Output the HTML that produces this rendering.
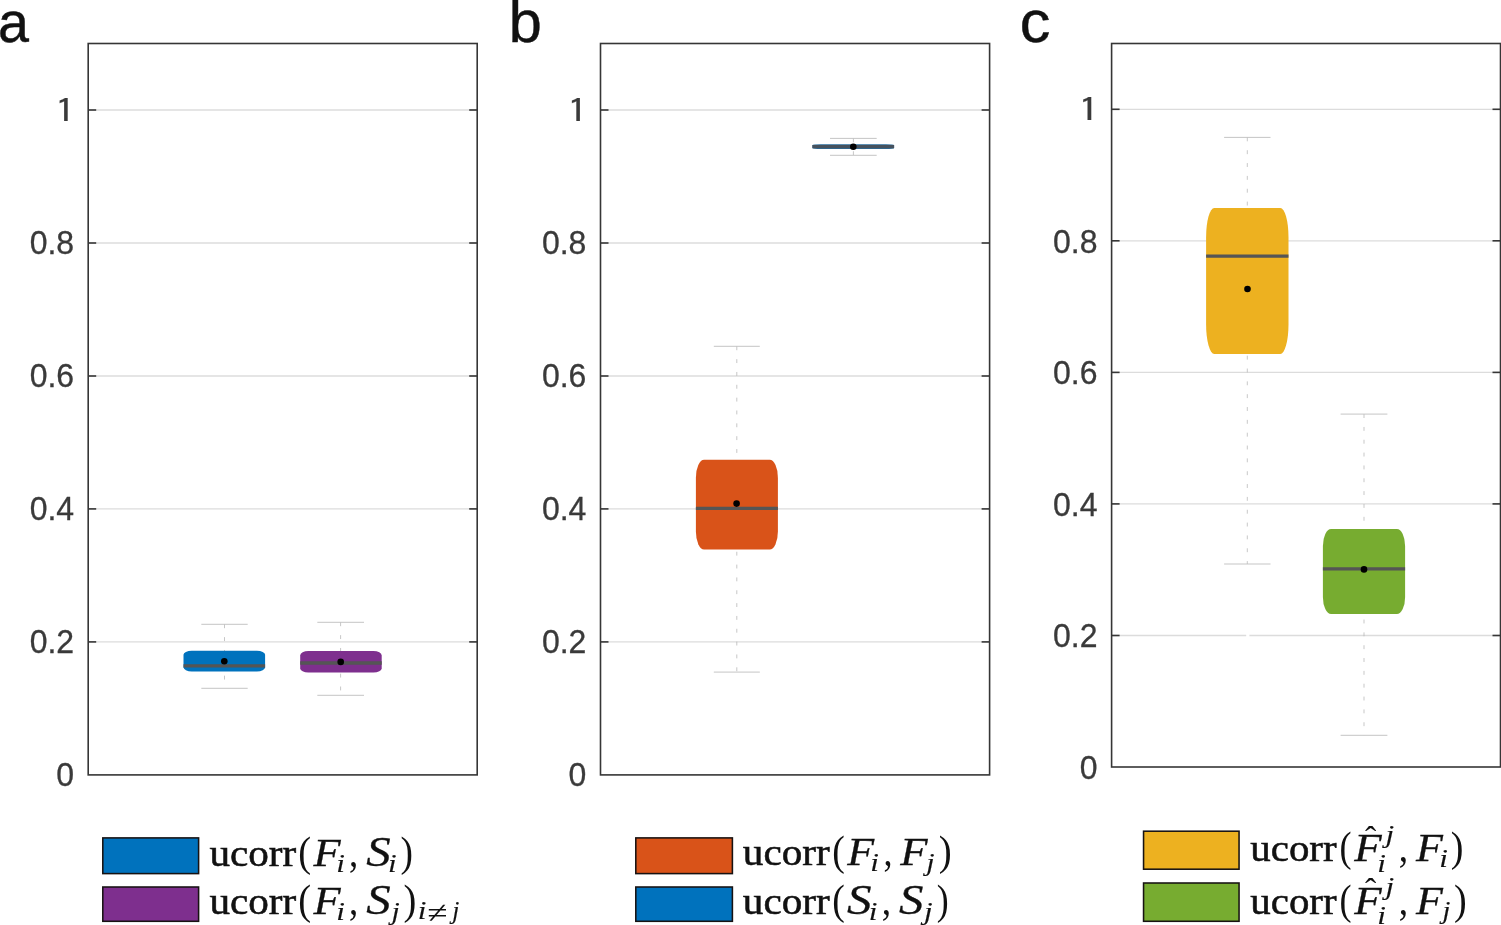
<!DOCTYPE html>
<html lang="en"><head><meta charset="utf-8"><title>ucorr box plots</title>
<style>
html,body{margin:0;padding:0;background:#fff;}
body{width:1501px;height:925px;overflow:hidden;}
svg{display:block;}
.tk{font-family:"Liberation Sans",Arial,Helvetica,sans-serif;font-size:32px;fill:#3a3a3a;stroke:#3a3a3a;stroke-width:0.3px;}
.pl{font-family:"Liberation Sans",Arial,Helvetica,sans-serif;font-size:58.3px;fill:#111;stroke:#111;stroke-width:0.45px;}
.tk1{font-family:"IPAGothic","NanumGothic","Liberation Sans",sans-serif;font-size:32.4px;fill:#3a3a3a;stroke:#3a3a3a;stroke-width:0.15px;}
.lr{font-family:"Liberation Serif","Times New Roman",serif;fill:#111;stroke:#111;stroke-width:0.55px;}
.lp{font-family:"Liberation Serif","Times New Roman",serif;fill:#111;}
.ls{font-family:"Liberation Serif","Times New Roman",serif;font-style:italic;fill:#111;stroke:#111;stroke-width:0.15px;}
.li{font-family:"Liberation Serif","Times New Roman",serif;font-style:italic;fill:#111;stroke:#111;stroke-width:0.3px;}
</style></head><body>
<svg width="1501" height="925" viewBox="0 0 1501 925">
<rect width="1501" height="925" fill="#fff"/>
<g id="panel-a">
<line x1="88.2" x2="477.2" y1="641.9" y2="641.9" stroke="#dcdcdc" stroke-width="1.3"/>
<line x1="88.2" x2="477.2" y1="508.9" y2="508.9" stroke="#dcdcdc" stroke-width="1.3"/>
<line x1="88.2" x2="477.2" y1="376.0" y2="376.0" stroke="#dcdcdc" stroke-width="1.3"/>
<line x1="88.2" x2="477.2" y1="243.0" y2="243.0" stroke="#dcdcdc" stroke-width="1.3"/>
<line x1="88.2" x2="477.2" y1="110.0" y2="110.0" stroke="#dcdcdc" stroke-width="1.3"/>
<line x1="224.5" x2="224.5" y1="624.3" y2="688.3" stroke="#b4b4b4" stroke-width="0.75" stroke-dasharray="3.9 8.94"/>
<line x1="201.3" x2="247.7" y1="624.3" y2="624.3" stroke="#bebebe" stroke-width="0.9"/>
<line x1="201.3" x2="247.7" y1="688.3" y2="688.3" stroke="#bebebe" stroke-width="0.9"/>
<rect x="183.5" y="650.7" width="81.6" height="20.7" rx="8.2" ry="4.1" fill="#0072bd"/>
<line x1="183.5" x2="265.1" y1="665.8" y2="665.8" stroke="#555555" stroke-width="3.3"/>
<circle cx="224.3" cy="661.2" r="3.3" fill="#000"/>
<line x1="340.6" x2="340.6" y1="622.3" y2="695.3" stroke="#b4b4b4" stroke-width="0.75" stroke-dasharray="3.9 8.94"/>
<line x1="317.3" x2="364.0" y1="622.3" y2="622.3" stroke="#bebebe" stroke-width="0.9"/>
<line x1="317.3" x2="364.0" y1="695.3" y2="695.3" stroke="#bebebe" stroke-width="0.9"/>
<rect x="300.2" y="651.1" width="81.5" height="21.4" rx="8.2" ry="4.3" fill="#7e2f8e"/>
<line x1="300.2" x2="381.7" y1="663.0" y2="663.0" stroke="#555555" stroke-width="3.3"/>
<circle cx="340.7" cy="661.9" r="3.3" fill="#000"/>
<rect x="88.2" y="43.5" width="389.0" height="731.4" fill="none" stroke="#363636" stroke-width="1.6"/>
<text class="tk" text-anchor="end" transform="translate(74.1,786.3) scale(1.0,1.04)">0</text>
<line x1="88.2" x2="96.2" y1="641.9" y2="641.9" stroke="#363636" stroke-width="1.6"/>
<line x1="469.2" x2="477.2" y1="641.9" y2="641.9" stroke="#363636" stroke-width="1.6"/>
<text class="tk" text-anchor="end" transform="translate(74.1,653.3) scale(1.0,1.04)">0.2</text>
<line x1="88.2" x2="96.2" y1="508.9" y2="508.9" stroke="#363636" stroke-width="1.6"/>
<line x1="469.2" x2="477.2" y1="508.9" y2="508.9" stroke="#363636" stroke-width="1.6"/>
<text class="tk" text-anchor="end" transform="translate(74.1,520.3) scale(1.0,1.04)">0.4</text>
<line x1="88.2" x2="96.2" y1="376.0" y2="376.0" stroke="#363636" stroke-width="1.6"/>
<line x1="469.2" x2="477.2" y1="376.0" y2="376.0" stroke="#363636" stroke-width="1.6"/>
<text class="tk" text-anchor="end" transform="translate(74.1,387.4) scale(1.0,1.04)">0.6</text>
<line x1="88.2" x2="96.2" y1="243.0" y2="243.0" stroke="#363636" stroke-width="1.6"/>
<line x1="469.2" x2="477.2" y1="243.0" y2="243.0" stroke="#363636" stroke-width="1.6"/>
<text class="tk" text-anchor="end" transform="translate(74.1,254.4) scale(1.0,1.04)">0.8</text>
<line x1="88.2" x2="96.2" y1="110.0" y2="110.0" stroke="#363636" stroke-width="1.6"/>
<line x1="469.2" x2="477.2" y1="110.0" y2="110.0" stroke="#363636" stroke-width="1.6"/>
<text class="tk1" transform="translate(54.73,122.54) scale(1.3,1)">1</text>
<text class="pl" transform="translate(-2.1,41.9) scale(0.955,1)">a</text>
</g>
<g id="panel-b">
<line x1="600.5" x2="989.6" y1="641.9" y2="641.9" stroke="#dcdcdc" stroke-width="1.3"/>
<line x1="600.5" x2="989.6" y1="508.9" y2="508.9" stroke="#dcdcdc" stroke-width="1.3"/>
<line x1="600.5" x2="989.6" y1="376.0" y2="376.0" stroke="#dcdcdc" stroke-width="1.3"/>
<line x1="600.5" x2="989.6" y1="243.0" y2="243.0" stroke="#dcdcdc" stroke-width="1.3"/>
<line x1="600.5" x2="989.6" y1="110.0" y2="110.0" stroke="#dcdcdc" stroke-width="1.3"/>
<line x1="736.8" x2="736.8" y1="346.3" y2="672.1" stroke="#b4b4b4" stroke-width="0.75" stroke-dasharray="3.9 8.94"/>
<line x1="713.8" x2="759.8" y1="346.3" y2="346.3" stroke="#bebebe" stroke-width="0.9"/>
<line x1="713.8" x2="759.8" y1="672.1" y2="672.1" stroke="#bebebe" stroke-width="0.9"/>
<rect x="695.9" y="459.7" width="82.0" height="89.9" rx="8.2" ry="18.0" fill="#d95319"/>
<line x1="695.9" x2="777.9" y1="508.3" y2="508.3" stroke="#555555" stroke-width="3.3"/>
<circle cx="736.6" cy="503.6" r="3.3" fill="#000"/>
<line x1="853.4" x2="853.4" y1="138.4" y2="155.3" stroke="#b4b4b4" stroke-width="0.75" stroke-dasharray="3.9 8.94"/>
<line x1="830.0" x2="876.7" y1="138.4" y2="138.4" stroke="#bebebe" stroke-width="0.9"/>
<line x1="830.0" x2="876.7" y1="155.3" y2="155.3" stroke="#bebebe" stroke-width="0.9"/>
<rect x="812.4" y="144.2" width="81.7" height="4.9" rx="8.2" ry="1.0" fill="#2a6c9c"/>
<line x1="812.4" x2="894.1" y1="146.65" y2="146.65" stroke="#46525e" stroke-width="3.3"/>
<circle cx="853.3" cy="146.8" r="3.3" fill="#000"/>
<rect x="600.5" y="43.5" width="389.1" height="731.4" fill="none" stroke="#363636" stroke-width="1.6"/>
<text class="tk" text-anchor="end" transform="translate(586.4,786.3) scale(1.0,1.04)">0</text>
<line x1="600.5" x2="608.5" y1="641.9" y2="641.9" stroke="#363636" stroke-width="1.6"/>
<line x1="981.6" x2="989.6" y1="641.9" y2="641.9" stroke="#363636" stroke-width="1.6"/>
<text class="tk" text-anchor="end" transform="translate(586.4,653.3) scale(1.0,1.04)">0.2</text>
<line x1="600.5" x2="608.5" y1="508.9" y2="508.9" stroke="#363636" stroke-width="1.6"/>
<line x1="981.6" x2="989.6" y1="508.9" y2="508.9" stroke="#363636" stroke-width="1.6"/>
<text class="tk" text-anchor="end" transform="translate(586.4,520.3) scale(1.0,1.04)">0.4</text>
<line x1="600.5" x2="608.5" y1="376.0" y2="376.0" stroke="#363636" stroke-width="1.6"/>
<line x1="981.6" x2="989.6" y1="376.0" y2="376.0" stroke="#363636" stroke-width="1.6"/>
<text class="tk" text-anchor="end" transform="translate(586.4,387.4) scale(1.0,1.04)">0.6</text>
<line x1="600.5" x2="608.5" y1="243.0" y2="243.0" stroke="#363636" stroke-width="1.6"/>
<line x1="981.6" x2="989.6" y1="243.0" y2="243.0" stroke="#363636" stroke-width="1.6"/>
<text class="tk" text-anchor="end" transform="translate(586.4,254.4) scale(1.0,1.04)">0.8</text>
<line x1="600.5" x2="608.5" y1="110.0" y2="110.0" stroke="#363636" stroke-width="1.6"/>
<line x1="981.6" x2="989.6" y1="110.0" y2="110.0" stroke="#363636" stroke-width="1.6"/>
<text class="tk1" transform="translate(567.03,122.54) scale(1.3,1)">1</text>
<text class="pl" transform="translate(508.8,41.7) scale(1.02,1)">b</text>
</g>
<g id="panel-c">
<line x1="1111.6" x2="1500.5" y1="635.5" y2="635.5" stroke="#dcdcdc" stroke-width="1.3"/>
<line x1="1111.6" x2="1500.5" y1="503.9" y2="503.9" stroke="#dcdcdc" stroke-width="1.3"/>
<line x1="1111.6" x2="1500.5" y1="372.4" y2="372.4" stroke="#dcdcdc" stroke-width="1.3"/>
<line x1="1111.6" x2="1500.5" y1="240.8" y2="240.8" stroke="#dcdcdc" stroke-width="1.3"/>
<line x1="1111.6" x2="1500.5" y1="109.3" y2="109.3" stroke="#dcdcdc" stroke-width="1.3"/>
<line x1="1247.3" x2="1247.3" y1="137.4" y2="564.0" stroke="#b4b4b4" stroke-width="0.75" stroke-dasharray="3.9 8.94"/>
<line x1="1224.1" x2="1270.5" y1="137.4" y2="137.4" stroke="#bebebe" stroke-width="0.9"/>
<line x1="1224.1" x2="1270.5" y1="564.0" y2="564.0" stroke="#bebebe" stroke-width="0.9"/>
<rect x="1206.1" y="208.0" width="82.4" height="145.9" rx="8.2" ry="29.2" fill="#edb120"/>
<line x1="1206.1" x2="1288.5" y1="256.1" y2="256.1" stroke="#555555" stroke-width="3.3"/>
<circle cx="1247.5" cy="289.0" r="3.3" fill="#000"/>
<line x1="1364.0" x2="1364.0" y1="414.1" y2="735.3" stroke="#b4b4b4" stroke-width="0.75" stroke-dasharray="3.9 8.94"/>
<line x1="1340.6" x2="1387.4" y1="414.1" y2="414.1" stroke="#bebebe" stroke-width="0.9"/>
<line x1="1340.6" x2="1387.4" y1="735.3" y2="735.3" stroke="#bebebe" stroke-width="0.9"/>
<rect x="1322.9" y="529.1" width="82.2" height="85.0" rx="8.2" ry="17.0" fill="#77ac30"/>
<line x1="1322.9" x2="1405.1" y1="568.9" y2="568.9" stroke="#555555" stroke-width="3.3"/>
<circle cx="1364.0" cy="569.4" r="3.3" fill="#000"/>
<rect x="1246.2" y="633.5" width="3.2" height="4" fill="#fff"/>
<rect x="1111.6" y="43.5" width="388.9" height="723.5" fill="none" stroke="#363636" stroke-width="1.6"/>
<text class="tk" text-anchor="end" transform="translate(1097.5,778.8) scale(1.0,1.04)">0</text>
<line x1="1111.6" x2="1119.6" y1="635.5" y2="635.5" stroke="#363636" stroke-width="1.6"/>
<line x1="1492.5" x2="1500.5" y1="635.5" y2="635.5" stroke="#363636" stroke-width="1.6"/>
<text class="tk" text-anchor="end" transform="translate(1097.5,647.3) scale(1.0,1.04)">0.2</text>
<line x1="1111.6" x2="1119.6" y1="503.9" y2="503.9" stroke="#363636" stroke-width="1.6"/>
<line x1="1492.5" x2="1500.5" y1="503.9" y2="503.9" stroke="#363636" stroke-width="1.6"/>
<text class="tk" text-anchor="end" transform="translate(1097.5,515.7) scale(1.0,1.04)">0.4</text>
<line x1="1111.6" x2="1119.6" y1="372.4" y2="372.4" stroke="#363636" stroke-width="1.6"/>
<line x1="1492.5" x2="1500.5" y1="372.4" y2="372.4" stroke="#363636" stroke-width="1.6"/>
<text class="tk" text-anchor="end" transform="translate(1097.5,384.2) scale(1.0,1.04)">0.6</text>
<line x1="1111.6" x2="1119.6" y1="240.8" y2="240.8" stroke="#363636" stroke-width="1.6"/>
<line x1="1492.5" x2="1500.5" y1="240.8" y2="240.8" stroke="#363636" stroke-width="1.6"/>
<text class="tk" text-anchor="end" transform="translate(1097.5,252.6) scale(1.0,1.04)">0.8</text>
<line x1="1111.6" x2="1119.6" y1="109.3" y2="109.3" stroke="#363636" stroke-width="1.6"/>
<line x1="1492.5" x2="1500.5" y1="109.3" y2="109.3" stroke="#363636" stroke-width="1.6"/>
<text class="tk1" transform="translate(1078.13,121.83) scale(1.3,1)">1</text>
<text class="pl" transform="translate(1019.8,41.9) scale(1.05,1)">c</text>
</g>
<g id="legend-a">
<rect x="102.8" y="837.9" width="95.8" height="35.7" fill="#0072bd" stroke="#171212" stroke-width="1.55"/>
<rect x="102.8" y="887.0" width="95.8" height="34.3" fill="#7e2f8e" stroke="#171212" stroke-width="1.55"/>
<text class="lr" font-size="37.5" transform="translate(209.47,865.70) scale(1.097,1)">ucorr</text>
<text class="lp" font-size="42" transform="translate(298.21,865.70) scale(0.918,1)">(</text>
<text class="li" font-size="40.3" transform="translate(313.44,865.70) scale(1.101,1)">F</text>
<text class="ls" font-size="26.0" transform="translate(336.32,871.70) scale(1.200,1)">i</text>
<text class="lp" font-size="42" transform="translate(348.99,865.70) scale(0.879,1)">,</text>
<text class="li" font-size="42.5" transform="translate(366.33,866.00) scale(1.151,1)">S</text>
<text class="ls" font-size="26.0" transform="translate(388.02,871.70) scale(1.200,1)">i</text>
<text class="lp" font-size="42" transform="translate(400.50,865.70) scale(0.890,1)">)</text>
<text class="lr" font-size="37.5" transform="translate(209.47,914.00) scale(1.097,1)">ucorr</text>
<text class="lp" font-size="42" transform="translate(298.21,914.00) scale(0.918,1)">(</text>
<text class="li" font-size="40.3" transform="translate(313.44,914.00) scale(1.101,1)">F</text>
<text class="ls" font-size="26.0" transform="translate(336.32,920.00) scale(1.200,1)">i</text>
<text class="lp" font-size="42" transform="translate(348.99,914.00) scale(0.879,1)">,</text>
<text class="li" font-size="42.5" transform="translate(366.33,914.30) scale(1.151,1)">S</text>
<text class="ls" font-size="26.0" transform="translate(391.48,919.80) scale(1.142,1)">j</text>
<text class="lp" font-size="42" transform="translate(403.56,914.00) scale(0.918,1)">)</text>
<text class="ls" font-size="26.0" transform="translate(417.77,919.30) scale(1.200,1)">i</text>
<text class="lp" font-size="30.5" transform="translate(427.47,923.00) scale(1.212,1)">≠</text>
<text class="ls" font-size="26.0" transform="translate(452.23,919.30) scale(0.982,1)">j</text>
</g>
<g id="legend-b">
<rect x="635.8" y="837.9" width="96.6" height="35.7" fill="#d95319" stroke="#171212" stroke-width="1.55"/>
<rect x="635.8" y="887.0" width="96.6" height="34.3" fill="#0072bd" stroke="#171212" stroke-width="1.55"/>
<text class="lr" font-size="37.5" transform="translate(742.87,865.30) scale(1.097,1)">ucorr</text>
<text class="lp" font-size="42" transform="translate(832.34,865.30) scale(0.899,1)">(</text>
<text class="li" font-size="40.3" transform="translate(847.24,865.30) scale(1.093,1)">F</text>
<text class="ls" font-size="26.0" transform="translate(870.27,871.30) scale(1.200,1)">i</text>
<text class="lp" font-size="42" transform="translate(883.42,865.30) scale(0.863,1)">,</text>
<text class="li" font-size="40.3" transform="translate(900.24,865.30) scale(1.109,1)">F</text>
<text class="ls" font-size="26.0" transform="translate(926.30,871.10) scale(1.153,1)">j</text>
<text class="lp" font-size="42" transform="translate(938.65,865.30) scale(0.927,1)">)</text>
<text class="lr" font-size="37.5" transform="translate(742.87,914.10) scale(1.097,1)">ucorr</text>
<text class="lp" font-size="42" transform="translate(832.34,914.10) scale(0.899,1)">(</text>
<text class="li" font-size="42.5" transform="translate(847.02,914.40) scale(1.156,1)">S</text>
<text class="ls" font-size="26.0" transform="translate(868.67,919.60) scale(1.200,1)">i</text>
<text class="lp" font-size="42" transform="translate(881.77,914.10) scale(0.895,1)">,</text>
<text class="li" font-size="42.5" transform="translate(899.03,914.40) scale(1.151,1)">S</text>
<text class="ls" font-size="26.0" transform="translate(924.02,919.90) scale(1.195,1)">j</text>
<text class="lp" font-size="42" transform="translate(936.75,914.10) scale(0.853,1)">)</text>
</g>
<g id="legend-c">
<rect x="1143.55" y="831.2" width="95.5" height="38.0" fill="#edb120" stroke="#171212" stroke-width="1.55"/>
<rect x="1143.55" y="883.0" width="95.5" height="38.3" fill="#77ac30" stroke="#171212" stroke-width="1.55"/>
<text class="lr" font-size="37.5" transform="translate(1250.37,861.30) scale(1.089,1)">ucorr</text>
<text class="lp" font-size="42" transform="translate(1339.41,861.30) scale(0.862,1)">(</text>
<text class="li" font-size="40.3" transform="translate(1354.34,861.30) scale(1.113,1)">F</text>
<text class="lp" font-size="32" transform="translate(1365.00,848.00) scale(1.057,1)">ˆ</text>
<text class="ls" font-size="26.0" transform="translate(1385.42,842.50) scale(1.195,1)">j</text>
<text class="ls" font-size="26.0" transform="translate(1377.17,872.00) scale(1.200,1)">i</text>
<text class="lp" font-size="42" transform="translate(1398.87,861.30) scale(0.895,1)">,</text>
<text class="li" font-size="40.3" transform="translate(1415.94,861.30) scale(1.093,1)">F</text>
<text class="ls" font-size="26.0" transform="translate(1439.17,867.30) scale(1.200,1)">i</text>
<text class="lp" font-size="42" transform="translate(1450.87,861.30) scale(0.908,1)">)</text>
<text class="lr" font-size="37.5" transform="translate(1250.37,913.50) scale(1.089,1)">ucorr</text>
<text class="lp" font-size="42" transform="translate(1339.41,913.50) scale(0.862,1)">(</text>
<text class="li" font-size="40.3" transform="translate(1354.34,913.50) scale(1.113,1)">F</text>
<text class="lp" font-size="32" transform="translate(1365.00,900.20) scale(1.057,1)">ˆ</text>
<text class="ls" font-size="26.0" transform="translate(1385.42,894.70) scale(1.195,1)">j</text>
<text class="ls" font-size="26.0" transform="translate(1377.17,924.20) scale(1.200,1)">i</text>
<text class="lp" font-size="42" transform="translate(1398.87,913.50) scale(0.895,1)">,</text>
<text class="li" font-size="40.3" transform="translate(1415.94,913.50) scale(1.093,1)">F</text>
<text class="ls" font-size="26.0" transform="translate(1442.53,919.30) scale(1.089,1)">j</text>
<text class="lp" font-size="42" transform="translate(1454.07,913.50) scale(0.908,1)">)</text>
</g>
</svg></body></html>
